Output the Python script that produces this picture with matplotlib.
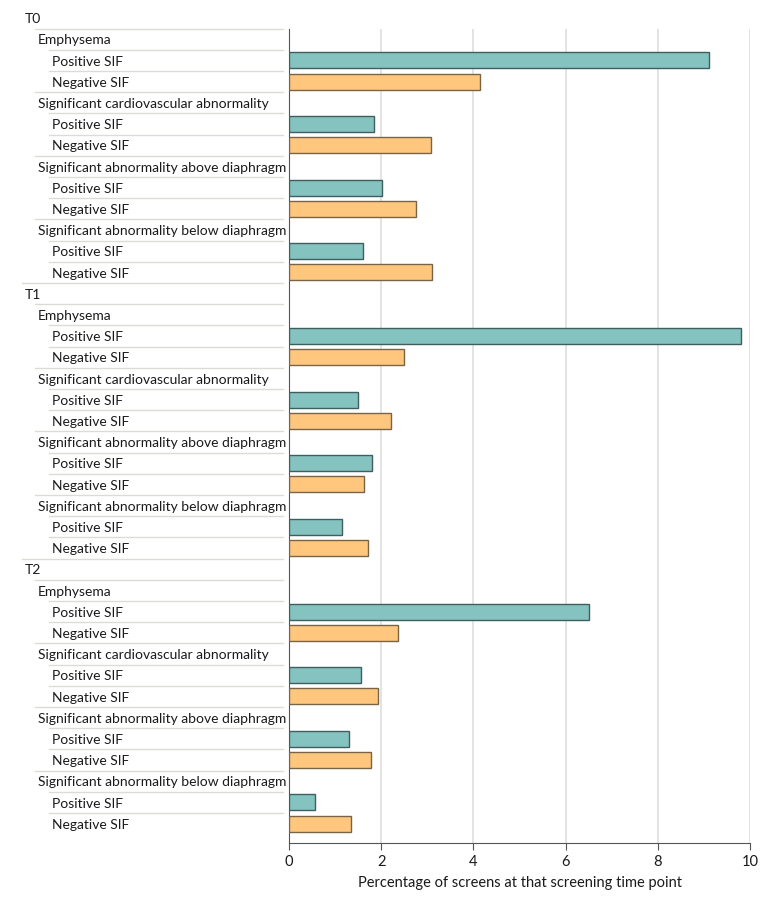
import matplotlib.pyplot as plt
import matplotlib.transforms as mtransforms

timepoints = ["T0", "T1", "T2"]
categories = ["Emphysema",
              "Significant cardiovascular abnormality",
              "Significant abnormality above diaphragm",
              "Significant abnormality below diaphragm"]
sif_labels = ["Positive SIF", "Negative SIF"]

# percentage per timepoint, per category: (positive, negative)
t0_vals = [(9.11, 4.14), (1.84, 3.08), (2.02, 2.75), (1.60, 3.10)]
t1_vals = [(9.80, 2.49), (1.50, 2.21), (1.80, 1.63), (1.15, 1.71)]
t2_vals = [(6.51, 2.36), (1.56, 1.93), (1.30, 1.78), (0.56, 1.34)]
all_vals = [t0_vals, t1_vals, t2_vals]

teal = "#84c3c0"
orange = "#ffc67e"

plt.rcParams['font.family'] = ['Lato', 'DejaVu Sans']

W, H = 780, 897
fig = plt.figure(figsize=(W / 100, H / 100), dpi=100)

row_h = 21.2
y0 = 18.0
top_px, bot_px = 29, 843
ax = fig.add_axes([289 / W, 1 - bot_px / H, (750 - 289) / W, (bot_px - top_px) / H])

# build rows: (label, indent_px, value, color)
rows = []
for tp, vals in zip(timepoints, all_vals):
    rows.append((tp, 25, None, None))
    for cat, (pos, neg) in zip(categories, vals):
        rows.append((cat, 38, None, None))
        rows.append((sif_labels[0], 52, pos, teal))
        rows.append((sif_labels[1], 52, neg, orange))

trans = mtransforms.blended_transform_factory(fig.transFigure, ax.transData)
for i, (lab, ind, val, col) in enumerate(rows):
    ax.text(ind / W, i + 0.06, lab, transform=trans, va="center", ha="left",
            fontsize=10, color="#1a1a1a", clip_on=False)
    if i > 0:
        ax.plot([(ind - 3) / W, 283 / W], [i - 0.5, i - 0.5], transform=trans,
                color="#dcdcd4", lw=1, clip_on=False)
    if val is not None:
        edge = "#3f5f5e" if col == teal else "#7a6446"
        ax.barh(i, val, height=0.75, color=col, edgecolor=edge, linewidth=1, zorder=3)

ax.set_xlim(0, 10)
ax.set_ylim((bot_px - y0) / row_h, (top_px - y0) / row_h)
ax.set_xticks([0, 2, 4, 6, 8, 10])
ax.set_yticks([])
ax.grid(axis="x", color="#e3e3e3", lw=1.4, zorder=0)
ax.set_axisbelow(True)
for s in ["top", "right"]:
    ax.spines[s].set_visible(False)
ax.spines["left"].set_color("#555555")
ax.spines["bottom"].set_color("#555555")
ax.tick_params(axis="x", length=5, color="#555555", labelsize=10.5, labelcolor="#1a1a1a")
ax.set_xlabel("Percentage of screens at that screening time point", fontsize=10.5,
              color="#1a1a1a", labelpad=5)

fig.savefig("out.png", dpi=100)
